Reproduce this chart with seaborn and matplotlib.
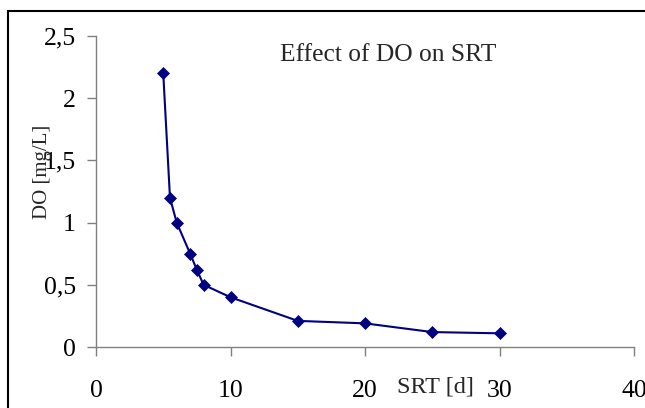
import matplotlib
matplotlib.use("Agg")
import matplotlib.pyplot as plt
import seaborn as sns
import pandas as pd
from matplotlib.patches import Rectangle
from matplotlib.ticker import FuncFormatter

srt = [5, 5.5, 6, 7, 7.5, 8, 10, 15, 20, 25, 30]
do = [2.2, 1.2, 1.0, 0.75, 0.62, 0.5, 0.4, 0.21, 0.19, 0.12, 0.11]
x_ticks = [0, 10, 20, 30, 40]
y_ticks = [0, 0.5, 1.0, 1.5, 2.0, 2.5]

sns.set_style("white")
plt.rcParams['font.family'] = ['Liberation Serif', 'DejaVu Serif']

df = pd.DataFrame({"SRT": srt, "DO": do})

fig = plt.figure(figsize=(6.45, 4.08), dpi=100)
ax = fig.add_axes([96/645, 1-347/408, (634-96)/645, (347-36)/408])

sns.lineplot(data=df, x="SRT", y="DO", ax=ax, color="#000080", marker="D",
             markersize=6, markeredgecolor="#000080", markeredgewidth=0.5,
             linewidth=1.5, sort=False)

ax.set_xlim(0, 40)
ax.set_ylim(0, 2.5)
ax.set_xticks(x_ticks)
ax.set_yticks(y_ticks)
ax.yaxis.set_major_formatter(FuncFormatter(lambda v, p: ("%g" % v).replace(".", ",")))
ax.xaxis.set_major_formatter(FuncFormatter(lambda v, p: "%g" % v))

for s in ["top", "right"]:
    ax.spines[s].set_visible(False)
for s in ["left", "bottom"]:
    ax.spines[s].set_color("#808080")
    ax.spines[s].set_linewidth(1.0)

ax.tick_params(axis="both", which="major", bottom=True, left=True, top=False, right=False,
               direction="out", length=6.5, width=1.0, color="#808080",
               labelsize=18.5, labelcolor="black")
ax.tick_params(axis="y", pad=8)
ax.tick_params(axis="x", pad=17)

ax.set_xlabel("SRT [d]", fontsize=17.5)
ax.set_ylabel("DO [mg/L]", fontsize=15)
ax.xaxis.set_label_coords(0.630, -0.1286)
ax.yaxis.set_label_coords(-0.100, 0.563)
ax.xaxis.label.set_va("center")
ax.yaxis.label.set_va("center")

ax.text(0.543, 0.939, "Effect of DO on SRT", transform=ax.transAxes,
        ha="center", va="center", fontsize=18.4)

fig.patches.append(Rectangle((8/645, -0.1), 1.2, 1 - 11/408 + 0.1, transform=fig.transFigure,
                             fill=False, edgecolor="black", linewidth=1.5, zorder=10))

fig.savefig("out.png", dpi=100)
